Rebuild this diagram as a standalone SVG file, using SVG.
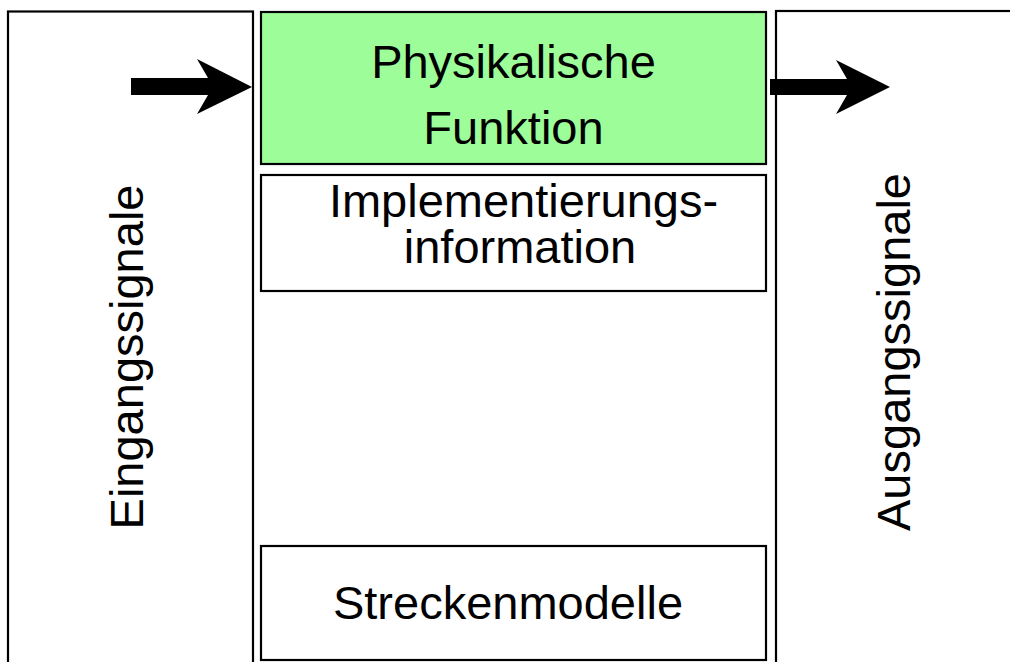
<svg xmlns="http://www.w3.org/2000/svg" width="1010" height="662" viewBox="0 0 1010 662">
<style>
.box{fill:#ffffff;stroke:#000000;stroke-width:2.2}
.green{fill:#9dfd99;stroke:#000000;stroke-width:2.2}
.t{font-family:"Liberation Sans",Arial,sans-serif;font-size:47px;fill:#000000;text-anchor:middle}
.arrow{fill:#000000;stroke:none}
</style>
<rect width="1010" height="662" fill="#ffffff"/>
<g id="eingang">
<rect class="box" x="8" y="11.5" width="245" height="670"/>
<text class="t" transform="translate(143,357) rotate(-90)">Eingangssignale</text>
</g>
<g id="ausgang">
<rect class="box" x="776" y="11" width="260" height="670"/>
<text class="t" transform="translate(910,352) rotate(-90)">Ausgangssignale</text>
</g>
<g id="physikalisch">
<rect class="green" x="261" y="12" width="505" height="152"/>
<text class="t" x="513.5" y="78">Physikalische</text>
<text class="t" x="513.5" y="144">Funktion</text>
</g>
<g id="implementierung">
<rect class="box" x="261" y="175" width="505" height="116"/>
<text class="t" x="523.5" y="217">Implementierungs-</text>
<text class="t" x="520" y="263">information</text>
</g>
<g id="strecken">
<rect class="box" x="261" y="546" width="505" height="114"/>
<text class="t" x="508" y="619">Streckenmodelle</text>
</g>
<g id="connectors">
<polygon class="arrow" points="131,78 208,78 197,59 252,87 197,114 208,95 131,95"/>
<polygon class="arrow" points="770,79 847,79 836,60 890,87 836,114 847,95 770,95"/>
</g>
</svg>
